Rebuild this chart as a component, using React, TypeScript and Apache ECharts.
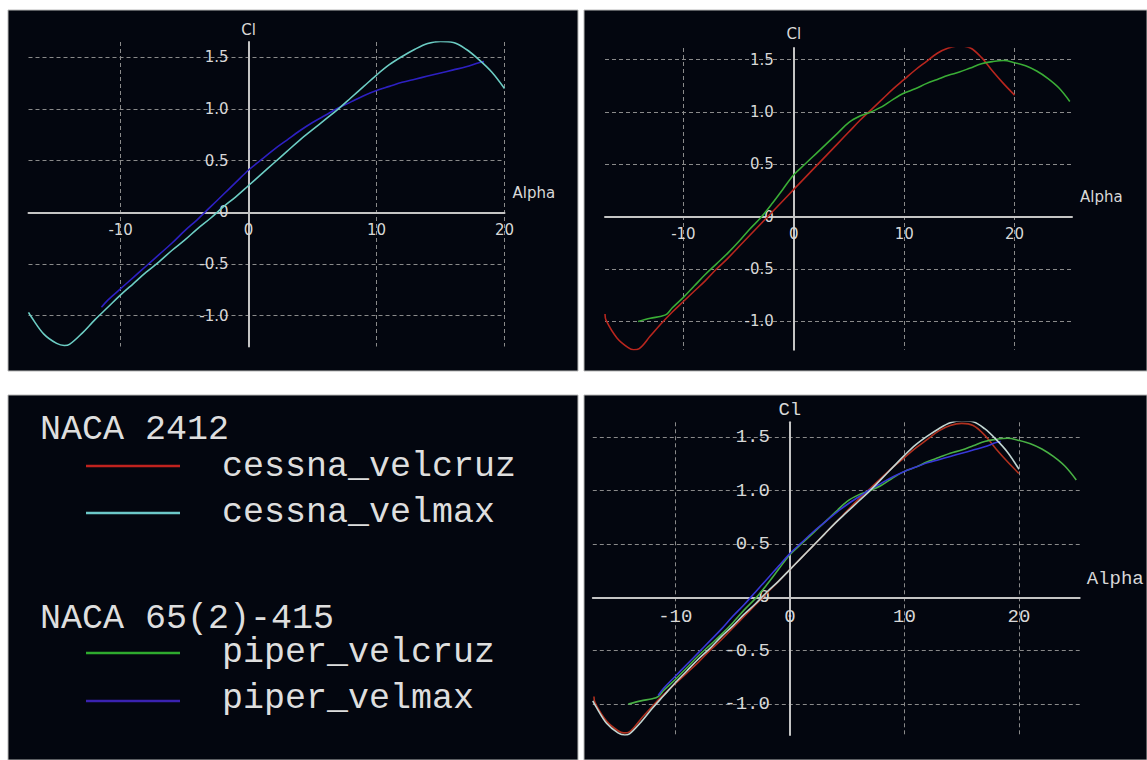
import React, { useEffect, useRef } from 'react';
import * as echarts from 'echarts';

// ---- data ----
const cessnaVelcruzAlpha = [-17.1, -17, -16, -15, -14.5, -14, -13, -12, -11, -10, -9, -8, -7, -6, -5, -4, -3, -2, -1, 0, 1, 2, 3, 4, 5, 6, 7, 8, 9, 10, 11, 12, 13, 14, 15, 16, 17, 18, 19, 20];
const cessnaVelcruzCl = [-0.93, -0.99, -1.16, -1.25, -1.27, -1.26, -1.14, -1.02, -0.91, -0.81, -0.71, -0.61, -0.50, -0.40, -0.29, -0.18, -0.07, 0.04, 0.15, 0.26, 0.37, 0.48, 0.59, 0.70, 0.81, 0.92, 1.02, 1.12, 1.22, 1.31, 1.40, 1.48, 1.56, 1.61, 1.63, 1.61, 1.52, 1.39, 1.27, 1.16];

const cessnaVelmaxAlpha = [-17.2, -17, -16, -15, -14.4, -14, -13, -12, -11, -10, -9, -8, -7, -6, -5, -4, -3, -2, -1, 0, 1, 2, 3, 4, 5, 6, 7, 8, 9, 10, 11, 12, 13, 14, 15, 16, 17, 18, 19, 20];
const cessnaVelmaxCl = [-0.97, -1.01, -1.18, -1.27, -1.29, -1.28, -1.17, -1.04, -0.92, -0.80, -0.69, -0.58, -0.48, -0.37, -0.27, -0.16, -0.06, 0.05, 0.15, 0.26, 0.37, 0.48, 0.59, 0.70, 0.80, 0.90, 1.00, 1.11, 1.22, 1.33, 1.43, 1.51, 1.58, 1.635, 1.655, 1.645, 1.58, 1.48, 1.36, 1.20];

const piperVelcruzAlpha = [-14.1, -13, -12, -11.5, -11, -10, -9, -8, -7, -6, -5, -4, -3, -2, -1, 0, 1, 2, 3, 4, 5, 6, 7, 8, 9, 10, 11, 12, 13, 14, 15, 16, 17, 18, 19, 20, 21, 22, 23, 24, 25];
const piperVelcruzCl = [-1.00, -0.97, -0.95, -0.93, -0.87, -0.77, -0.66, -0.55, -0.45, -0.35, -0.24, -0.12, -0.01, 0.12, 0.26, 0.40, 0.50, 0.60, 0.70, 0.80, 0.90, 0.96, 1.00, 1.05, 1.12, 1.18, 1.22, 1.27, 1.31, 1.35, 1.38, 1.42, 1.46, 1.48, 1.49, 1.47, 1.44, 1.39, 1.32, 1.23, 1.10];

const piperVelmaxAlpha = [-11.5, -11, -10, -9, -8, -7, -6, -5, -4, -3, -2, -1, 0, 1, 2, 3, 4, 5, 6, 7, 8, 9, 10, 11, 12, 13, 14, 15, 16, 17, 18, 18.4];
const piperVelmaxCl = [-0.92, -0.85, -0.74, -0.63, -0.52, -0.41, -0.30, -0.18, -0.07, 0.05, 0.17, 0.29, 0.41, 0.51, 0.61, 0.70, 0.79, 0.87, 0.94, 1.01, 1.07, 1.13, 1.18, 1.22, 1.26, 1.29, 1.32, 1.35, 1.38, 1.41, 1.45, 1.46];

const xTickLabels = [-10, 0, 10, 20];
const yTickLabels = [-1, -0.5, 0, 0.5, 1, 1.5];

const legendGroupTitles = ['NACA 2412', 'NACA 65(2)-415'];
const legendSeriesNames = ['cessna_velcruz', 'cessna_velmax', 'piper_velcruz', 'piper_velmax'];

// ---- styling ----
const PANEL_BG = '#03060f';
const RED = '#b8261e';
const CYAN = '#6ccdc4';
const GREEN = '#3aad36';
const BLUE = '#2d20c2';
const LEGEND_COLORS = ['#c0221e', '#6cc8c8', '#2eaa2e', '#3a22b0'];

const SANS = '"DejaVu Sans", Verdana, sans-serif';
const MONO = '"Liberation Mono", "Courier New", monospace';

type Panel = {
  left: number; top: number; width: number; height: number;
  xMin: number; xMax: number; yMin: number; yMax: number;
  font: string; size: number; showMaxX: boolean; xNameGap: number; xNamePad: number; yNameGap: number;
};

const panelsCfg: Panel[] = [
  { left: 28.5, top: 42, width: 476, height: 304.5, xMin: -17.2, xMax: 20, yMin: -1.3, yMax: 1.65, font: SANS, size: 15, showMaxX: true, xNameGap: 8, xNamePad: 12, yNameGap: 5 },
  { left: 605, top: 48, width: 467, height: 301.7, xMin: -17.1, xMax: 25.2, yMin: -1.27, yMax: 1.61, font: SANS, size: 15, showMaxX: false, xNameGap: 8, xNamePad: 12, yNameGap: 7 },
  { left: 592.8, top: 422.3, width: 486.9, height: 312.7, xMin: -17.2, xMax: 25.3, yMin: -1.29, yMax: 1.64, font: MONO, size: 19, showMaxX: false, xNameGap: 7, xNamePad: 9, yNameGap: 3 },
];

const pairs = (a: number[], c: number[]) => a.map((v, i) => [v, c[i]]);

const gridLine = { color: '#8a8a8a', width: 1, type: [4, 3] };

function xAxis(i: number, p: Panel) {
  // place the axis on Cl = 0 (offset measured upward from the grid's bottom edge)
  const zeroFromBottom = (p.height * (0 - p.yMin)) / (p.yMax - p.yMin);
  return {
    type: 'value', gridIndex: i, min: p.xMin, max: p.xMax, minInterval: 10, maxInterval: 10,
    position: 'bottom', offset: -zeroFromBottom,
    name: 'Alpha', nameLocation: 'end', nameGap: p.xNameGap,
    nameTextStyle: { color: '#d8d8d8', fontFamily: p.font, fontSize: p.size, verticalAlign: 'bottom', align: 'left', padding: [0, 0, p.xNamePad, 0] },
    axisLine: { onZero: false, lineStyle: { color: '#c4c4c4', width: 2 } },
    axisTick: { show: false },
    axisLabel: {
      color: '#d8d8d8', fontFamily: p.font, fontSize: p.size, margin: 10,
      formatter: (v: number) => (xTickLabels.includes(v) ? String(v) : ''),
    },
    splitLine: { show: true, showMinLine: false, showMaxLine: p.showMaxX, lineStyle: gridLine },
  };
}

function yAxis(i: number, p: Panel) {
  const zeroFromLeft = (p.width * (0 - p.xMin)) / (p.xMax - p.xMin);
  return {
    type: 'value', gridIndex: i, min: p.yMin, max: p.yMax, minInterval: 0.5, maxInterval: 0.5,
    position: 'left', offset: -zeroFromLeft,
    name: 'Cl', nameLocation: 'end', nameGap: p.yNameGap,
    nameTextStyle: { color: '#d8d8d8', fontFamily: p.font, fontSize: p.size },
    axisLine: { onZero: false, lineStyle: { color: '#c4c4c4', width: 2 } },
    axisTick: { show: false },
    axisLabel: {
      color: '#d8d8d8', fontFamily: p.font, fontSize: p.size, margin: 20,
      formatter: (v: number) => (yTickLabels.includes(v) ? (v === 0 ? '0' : v.toFixed(1)) : ''),
    },
    splitLine: { show: true, showMinLine: false, showMaxLine: false, lineStyle: gridLine },
  };
}

function line(name: string, data: number[][], color: string, idx: number) {
  return {
    type: 'line', name, data, xAxisIndex: idx, yAxisIndex: idx,
    showSymbol: false, smooth: 0.35,
    lineStyle: { color, width: 1.6 },
    itemStyle: { color },
  };
}

function buildOption() {
  const legendText = (text: string, x: number, y: number) => ({
    type: 'text', x, y, z: 5,
    style: { text, fill: '#dedede', font: `35px ${MONO}`, verticalAlign: 'middle', align: 'left' },
  });
  const legendLine = (color: string, y: number) => ({
    type: 'line', z: 5, shape: { x1: 86, y1: y, x2: 180, y2: y },
    style: { stroke: color, lineWidth: 2.5 },
  });
  const rect = (x: number, y: number, w: number, h: number) => ({
    type: 'rect', z: -10, shape: { x, y, width: w, height: h },
    style: { fill: PANEL_BG, stroke: '#b8b8b8', lineWidth: 1 },
  });

  return {
    animation: false,
    backgroundColor: '#ffffff',
    graphic: [
      rect(8, 10, 570, 361),
      rect(584, 10, 563, 361),
      rect(8, 395, 570, 365),
      rect(584, 395, 563, 365),
      legendText(legendGroupTitles[0], 40, 430),
      legendLine(LEGEND_COLORS[0], 466),
      legendText(legendSeriesNames[0], 222, 467),
      legendLine(LEGEND_COLORS[1], 513),
      legendText(legendSeriesNames[1], 222, 513),
      legendText(legendGroupTitles[1], 40, 619),
      legendLine(LEGEND_COLORS[2], 653),
      legendText(legendSeriesNames[2], 222, 653),
      legendLine(LEGEND_COLORS[3], 701),
      legendText(legendSeriesNames[3], 222, 699),
    ],
    grid: panelsCfg.map((p) => ({ left: p.left, top: p.top, width: p.width, height: p.height })),
    xAxis: panelsCfg.map((p, i) => xAxis(i, p)),
    yAxis: panelsCfg.map((p, i) => yAxis(i, p)),
    series: [
      line('piper_velmax', pairs(piperVelmaxAlpha, piperVelmaxCl), BLUE, 0),
      line('cessna_velmax', pairs(cessnaVelmaxAlpha, cessnaVelmaxCl), CYAN, 0),
      line('cessna_velcruz', pairs(cessnaVelcruzAlpha, cessnaVelcruzCl), RED, 1),
      line('piper_velcruz', pairs(piperVelcruzAlpha, piperVelcruzCl), GREEN, 1),
      line('cessna_velcruz', pairs(cessnaVelcruzAlpha, cessnaVelcruzCl), '#b0301e', 2),
      line('piper_velcruz', pairs(piperVelcruzAlpha, piperVelcruzCl), '#48b044', 2),
      line('piper_velmax', pairs(piperVelmaxAlpha, piperVelmaxCl), '#3838d8', 2),
      line('cessna_velmax', pairs(cessnaVelmaxAlpha, cessnaVelmaxCl), '#c2d6d2', 2),
    ],
  };
}

export default function App() {
  const ref = useRef<HTMLDivElement>(null);
  useEffect(() => {
    document.body.style.margin = '0';
    const chart = echarts.init(ref.current as HTMLDivElement, null, { renderer: 'svg' });
    chart.setOption(buildOption() as any);
    return () => chart.dispose();
  }, []);
  return (
    <div
      ref={ref}
      style={{ position: 'absolute', left: 0, top: 0, width: 1147, height: 760, background: '#ffffff' }}
    />
  );
}
